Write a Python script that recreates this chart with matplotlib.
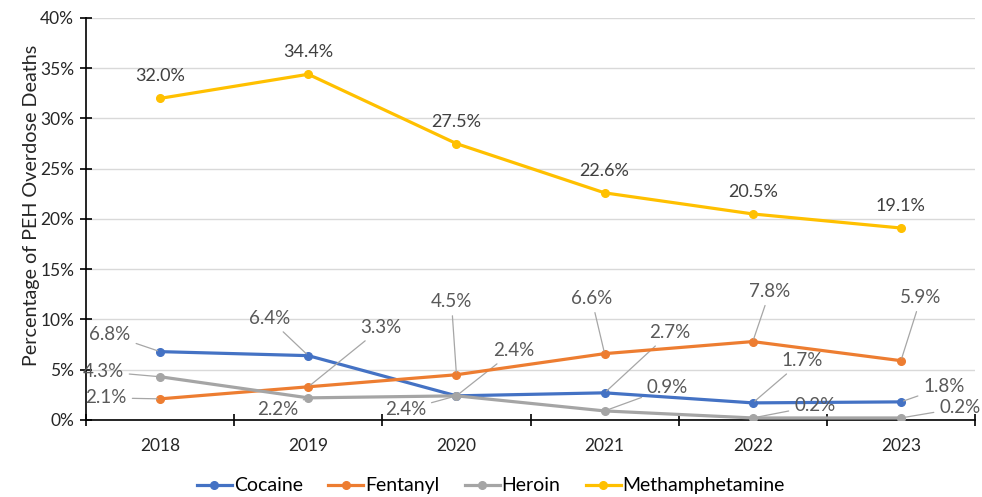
import matplotlib.pyplot as plt
import numpy as np
from matplotlib.ticker import PercentFormatter

plt.rcParams['font.family'] = ['Lato', 'DejaVu Sans']

years = ["2018", "2019", "2020", "2021", "2022", "2023"]
cocaine = [6.8, 6.4, 2.4, 2.7, 1.7, 1.8]
fentanyl = [2.1, 3.3, 4.5, 6.6, 7.8, 5.9]
heroin = [4.3, 2.2, 2.4, 0.9, 0.2, 0.2]
meth = [32.0, 34.4, 27.5, 22.6, 20.5, 19.1]

# label offsets in pixels (dx, dy) for the leader-line labels
off_cocaine = [(-50, 17), (-39, 37), (57, 45), (65, 60), (49, 42), (43, 15)]
off_fentanyl = [(-54, 1), (73, 59), (-5, 73), (-13, 55), (17, 50), (20, 63)]
off_heroin = [(-57, 5), (-31, -12), (-51, -14), (63, 23), (62, 12), (59, 10)]

fig = plt.figure(figsize=(9.82, 4.97), dpi=100)
ax = fig.add_axes([0.0876, 0.155, 0.9053, 0.8088])

x = np.arange(len(years))
series = [
    ("Cocaine", cocaine, "#4472C4", off_cocaine),
    ("Fentanyl", fentanyl, "#ED7D31", off_fentanyl),
    ("Heroin", heroin, "#A5A5A5", off_heroin),
    ("Methamphetamine", meth, "#FFC000", None),
]

for name, vals, col, offs in series:
    ax.plot(x, vals, color=col, lw=2.3, marker='o', ms=5.5, label=name, zorder=3)
    for i, v in enumerate(vals):
        if offs is None:
            ax.annotate(f"{v:.1f}%", (x[i], v), xytext=(0, 22), textcoords='offset pixels',
                        ha='center', va='center', fontsize=13, color='#404040')
        else:
            ax.annotate(f"{v:.1f}%", (x[i], v), xytext=offs[i], textcoords='offset pixels',
                        ha='center', va='center', fontsize=13.5, color='#595959',
                        arrowprops=dict(arrowstyle='-', color='#A6A6A6', lw=0.9,
                                        shrinkA=2, shrinkB=2))

ax.set_xlim(-0.5, len(years) - 0.5)
ax.set_ylim(0, 40)
ax.set_yticks(np.arange(0, 41, 5))
ax.yaxis.set_major_formatter(PercentFormatter(decimals=0))
ax.set_xticks(x)
ax.set_xticklabels(years)
ax.set_xticks(np.arange(-0.5, len(years), 1), minor=True)
ax.tick_params(axis='x', which='major', length=0, pad=13, labelsize=12.5, labelcolor='#262626')
ax.tick_params(axis='x', which='minor', length=9, direction='inout', width=1.2)
ax.tick_params(axis='y', length=9, direction='inout', width=1.2, labelsize=12.5,
               labelcolor='#262626', pad=4)
ax.grid(axis='y', color='#D9D9D9', lw=1)
ax.set_axisbelow(True)
for s in ['top', 'right']:
    ax.spines[s].set_visible(False)
for s in ['left', 'bottom']:
    ax.spines[s].set_linewidth(1.2)
ax.set_ylabel("Percentage of PEH Overdose Deaths", fontsize=14.2, color='#262626')
ax.yaxis.set_label_coords(-0.052, 0.535)

fig.legend(loc='lower center', bbox_to_anchor=(0.5, -0.03), ncol=4, frameon=False,
           fontsize=14, handlelength=1.8, columnspacing=1.3, handletextpad=0.1)

fig.savefig("out.png", dpi=100)
